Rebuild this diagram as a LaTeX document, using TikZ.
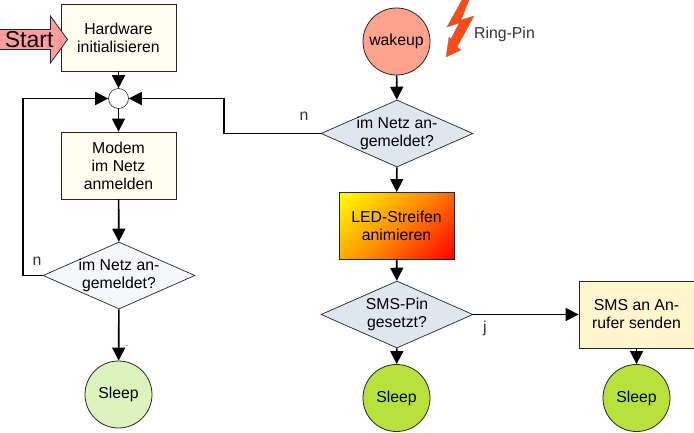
\documentclass[tikz,border=0pt]{standalone}
\usepackage{fontspec}
\setmainfont{Liberation Sans}
\usetikzlibrary{arrows.meta,positioning,calc,shapes.geometric,shapes.arrows}

\definecolor{boxyellow}{HTML}{FFFDF0}
\definecolor{smsyellow}{HTML}{FFF5CE}
\definecolor{diagrey}{HTML}{F6F7FA}
\definecolor{diablue}{HTML}{DEE6EF}
\definecolor{sleeppale}{HTML}{DDF3BE}
\definecolor{sleepgreen}{HTML}{B9E13C}
\definecolor{wakered}{HTML}{FFA38F}
\definecolor{startred}{HTML}{FF9C9C}
\definecolor{flashred}{HTML}{FF4A12}
\definecolor{ledmid}{HTML}{FF8C00}
\pgfdeclareverticalshading{ledgrad}{100bp}{color(0bp)=(red); color(15bp)=(red); color(50bp)=(ledmid); color(85bp)=(yellow); color(100bp)=(yellow)}

\tikzset{
  flowbox/.style={draw=black!85, line width=0.8pt, minimum width=115pt, minimum height=67pt,
    align=center, inner sep=0pt, fill=boxyellow, font=\fontsize{15.8}{18}\selectfont},
  flowdia/.style={diamond, draw=black!85, line width=0.7pt, minimum width=152pt, minimum height=67pt,
    aspect=2.28, align=center, inner sep=-6pt, fill=diablue, font=\fontsize{15.8}{18}\selectfont},
  flowsleep/.style={circle, draw=black!85, line width=0.8pt, minimum size=67pt,
    inner sep=0pt, fill=sleepgreen, font=\fontsize{15.8}{18}\selectfont},
  flowlabel/.style={inner sep=0pt, font=\fontsize{15.8}{18}\selectfont, text=black!80},
  flowline/.style={line width=1.6pt, -{Triangle[length=13pt,width=13pt]}},
}

\begin{document}
\begin{tikzpicture}[x=1pt,y=-1pt]
    \useasboundingbox (0,0) rectangle (694,432);

    % left column
    \node[flowbox] (hardware) at (118.5,37.5) {Hardware\\initialisieren};
    \node[single arrow, draw=black!85, line width=0.8pt, fill=startred, single arrow head extend=11.5pt,
      single arrow tip angle=108, minimum height=68pt, minimum width=47pt, inner sep=0pt, anchor=tip,
      font=\fontsize{23}{25}\selectfont] (start) at (68,39.5) {\makebox[48pt][l]{\hspace{-1pt}Start}};
    \node[circle, draw=black!85, line width=0.6pt, fill=white, minimum size=20pt, inner sep=0pt] (join) at (118.5,98.5) {};
    \node[flowbox] (modem) at (118.5,165.5) {Modem\\im Netz\\anmelden};
    \node[flowdia, fill=diagrey] (netzleft) at (119,275.5) {im Netz an-\\gemeldet?};
    \node[flowsleep, fill=sleeppale] (sleepleft) at (118.5,394.5) {Sleep};
    \coordinate (loopleft) at (23,275.5);
    \node[flowlabel] (nleft) at (37,261) {n};
    \node[inner sep=0pt, font=\fontsize{8}{8}\selectfont] (dot) at (127,346) {.};

    % right column
    \node[flowsleep, fill=wakered] (wakeup) at (396.5,41.5) {wakeup};
    \node[flowdia] (netzright) at (397,133.5) {im Netz an-\\gemeldet?};
    \node[flowbox, shading=ledgrad, shading angle=45] (led) at (396.5,226) {LED-Streifen\\animieren};
    \node[flowdia] (pin) at (397,314.5) {SMS-Pin\\gesetzt?};
    \node[flowsleep] (sleepmid) at (396.5,398) {Sleep};
    \node[flowbox, fill=smsyellow] (sms) at (636.5,314.5) {SMS an An-\\rufer senden};
    \node[flowsleep] (sleepright) at (636.5,398) {Sleep};
    \node[flowlabel] (nright) at (304,116) {n};
    \node[flowlabel] (jlabel) at (485,328) {j};
    \node[flowlabel] (ringpin) at (504.5,34) {Ring-Pin};
    \coordinate (loopright) at (224,133.5);

    % lightning
    \draw[draw=black!50, line width=0.4pt, fill=flashred] (462,0) -- (447,27) -- (459,23) -- (451,39) -- (449,37)
      -- (446,57) -- (461,50) -- (457,47) -- (474,16) -- (461,20) -- (469,0) -- cycle;

    % connections
    \draw[flowline] (hardware) -- (join);
    \draw[flowline] (join) -- (modem);
    \draw[flowline] (modem) -- (netzleft);
    \draw[flowline] (netzleft) -- (sleepleft);
    \draw[flowline] (netzleft.west) -- (loopleft) |- (join);
    \draw[flowline] (netzright.west) -- (loopright) |- (join);
    \draw[flowline] (wakeup) -- (netzright);
    \draw[flowline] (netzright) -- (led);
    \draw[flowline] (led) -- (pin);
    \draw[flowline] (pin) -- (sleepmid);
    \draw[flowline] (pin) -- (sms);
    \draw[flowline] (sms) -- (sleepright);
\end{tikzpicture}
\end{document}
